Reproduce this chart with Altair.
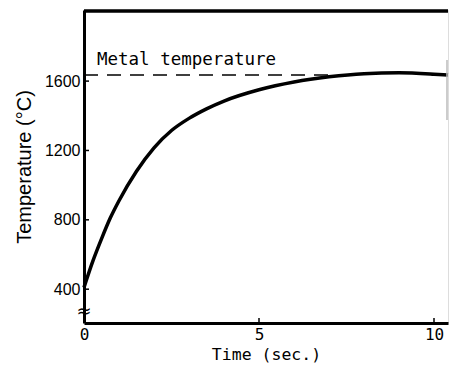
import altair as alt
import pandas as pd

# Curve
time_s = [0.0, 0.25, 0.5, 0.75, 1.0, 1.5, 2.0, 2.5, 3.0, 3.5, 4.0, 5.0, 6.0, 7.0, 8.0, 9.0, 10.0, 10.4]
temp_c = [410, 560, 690, 810, 910, 1080, 1215, 1315, 1385, 1440, 1485, 1550, 1595, 1625, 1643, 1648, 1640, 1635]

metal_temp = 1635
metal_x = [0.0, 7.0]
label_text = "Metal temperature"
label_x = 0.37
label_y = 1693

x_ticks = [5, 10]
x_labels = [0, 5, 10]
y_ticks = [400, 800, 1200, 1600]
x_domain = [0, 10.4]
y_domain = [205, 2010]
break_y = 268

W, H = 364, 313

curve_df = pd.DataFrame({"t": time_s, "T": temp_c})
dash_df = pd.DataFrame({"t": metal_x, "T": [metal_temp, metal_temp]})
lab_df = pd.DataFrame({"t": [label_x], "T": [label_y], "txt": [label_text]})
xt_df = pd.DataFrame({"t": x_ticks})
yt_df = pd.DataFrame({"T": y_ticks})
brk_df = pd.DataFrame({"t": [0], "T": [break_y], "txt": ["≈"]})

xs = alt.Scale(domain=x_domain, nice=False, zero=False)
ys = alt.Scale(domain=y_domain, nice=False, zero=False)

x_axis = alt.Axis(values=x_labels, ticks=False, grid=False, domainWidth=3, domainColor="black",
                  labelFont="DejaVu Sans Mono", labelFontSize=16, labelColor="black",
                  labelPadding=3, labelFlush=False, format="d",
                  title="Time (sec.)", titleFont="DejaVu Sans Mono", titleFontSize=16.5,
                  titleFontWeight="normal", titleColor="black", titlePadding=4)
y_axis = alt.Axis(values=y_ticks, ticks=False, grid=False, domainWidth=3, domainColor="black",
                  labelFont="Liberation Sans", labelFontSize=16, labelColor="black",
                  labelPadding=4, format="d",
                  title="Temperature (°C)", titleFont="Liberation Sans", titleFontSize=20,
                  titleFontWeight="normal", titleColor="black", titlePadding=10)

curve = alt.Chart(curve_df).mark_line(color="black", strokeWidth=3.5, interpolate="monotone").encode(
    x=alt.X("t:Q", scale=xs, axis=x_axis),
    y=alt.Y("T:Q", scale=ys, axis=y_axis),
)

dash = alt.Chart(dash_df).mark_line(color="black", strokeWidth=1.5, strokeDash=[14, 9]).encode(
    x=alt.X("t:Q", scale=xs), y=alt.Y("T:Q", scale=ys))

label = alt.Chart(lab_df).mark_text(align="left", baseline="alphabetic", font="DejaVu Sans Mono",
                                    fontSize=17.5, color="black").encode(
    x=alt.X("t:Q", scale=xs), y=alt.Y("T:Q", scale=ys), text="txt:N")

xticks = alt.Chart(xt_df).mark_rule(color="black", strokeWidth=1.5).encode(
    x=alt.X("t:Q", scale=xs), y=alt.value(H), y2=alt.value(H - 5))

yticks = alt.Chart(yt_df).mark_rule(color="black", strokeWidth=1.5).encode(
    y=alt.Y("T:Q", scale=ys), x=alt.value(0), x2=alt.value(5))

top = alt.Chart(xt_df).mark_rule(color="black", strokeWidth=3).encode(
    x=alt.value(0), x2=alt.value(W), y=alt.value(1))

right = alt.Chart(xt_df).mark_rule(color="#bbbbbb", strokeWidth=1).encode(
    x=alt.value(W - 1), y=alt.value(50), y2=alt.value(110))

brk = alt.Chart(brk_df).mark_text(fontSize=18, color="black", font="DejaVu Sans",
                                  baseline="middle", align="center").encode(
    x=alt.X("t:Q", scale=xs), y=alt.Y("T:Q", scale=ys), text="txt:N")

chart = alt.layer(curve, dash, label, xticks, yticks, top, right, brk).properties(
    width=W, height=H,
    autosize=alt.AutoSizeParams(type="none"),
    padding={"left": 84, "top": 10, "right": 1, "bottom": 51},
).configure_view(stroke=None).configure(background="white")

chart.save("out.html", embed_options={"renderer": "svg", "actions": False})
